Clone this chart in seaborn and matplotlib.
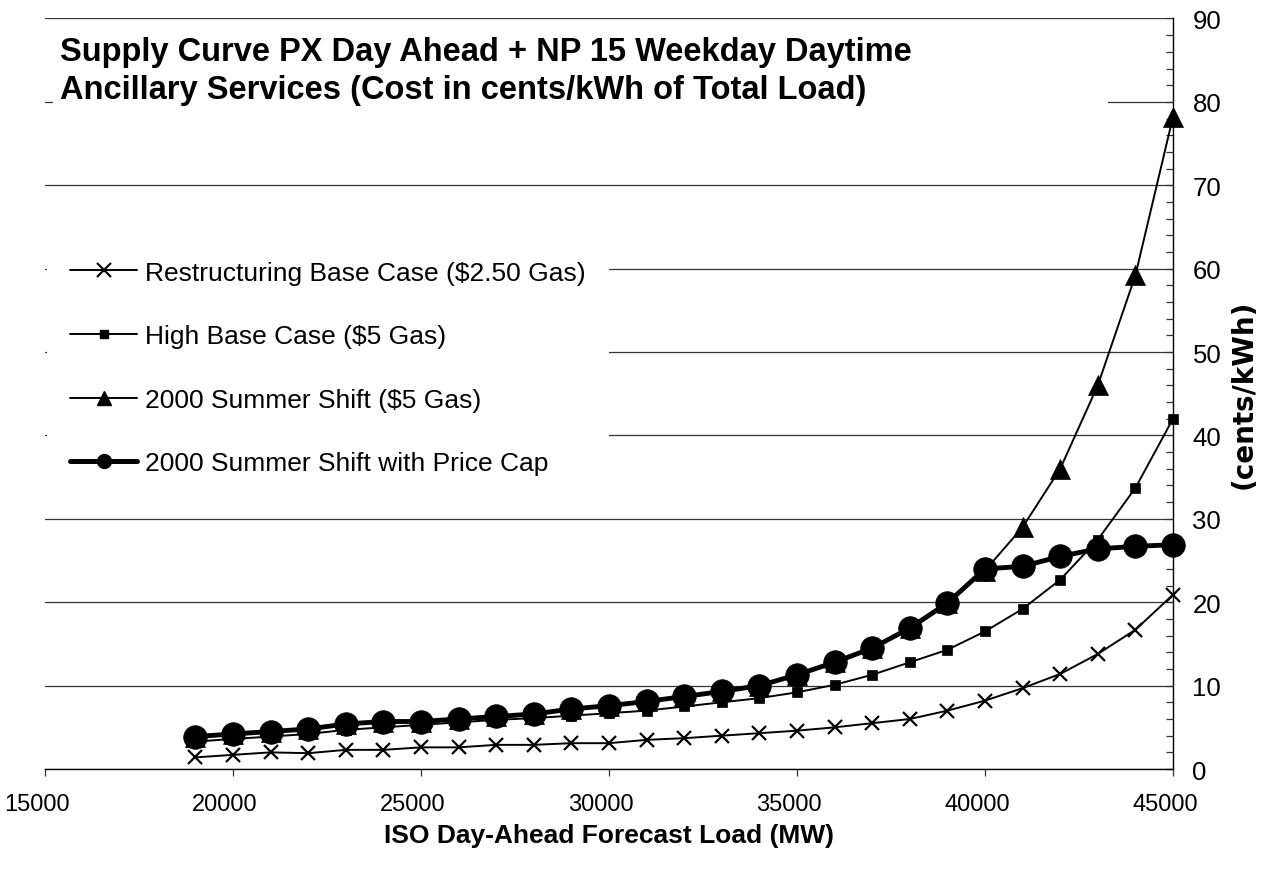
import matplotlib
matplotlib.use("Agg")
import matplotlib.pyplot as plt
import seaborn as sns
from matplotlib.lines import Line2D
from matplotlib.patches import Rectangle
from matplotlib.ticker import MultipleLocator
from matplotlib.transforms import ScaledTranslation

# ---- data -------------------------------------------------------------
load_mw = [19000, 20000, 21000, 22000, 23000, 24000, 25000, 26000, 27000,
           28000, 29000, 30000, 31000, 32000, 33000, 34000, 35000, 36000,
           37000, 38000, 39000, 40000, 41000, 42000, 43000, 44000, 45000]

restructuring = [1.4, 1.7, 2.0, 1.9, 2.3, 2.3, 2.6, 2.6, 2.9, 2.9, 3.1, 3.1,
                 3.5, 3.7, 4.0, 4.3, 4.6, 5.0, 5.5, 6.0, 7.0, 8.2, 9.7, 11.4,
                 13.8, 16.7, 20.9]

high_base = [3.3, 3.6, 3.9, 4.2, 4.7, 5.0, 5.3, 5.6, 5.9, 6.1, 6.4, 6.7,
             7.0, 7.5, 8.0, 8.5, 9.2, 10.1, 11.3, 12.8, 14.3, 16.5, 19.2,
             22.7, 27.5, 33.7, 42.0]

summer_shift = [3.9, 4.2, 4.5, 4.8, 5.4, 5.7, 5.7, 6.0, 6.3, 6.6, 7.2, 7.6,
                8.1, 8.7, 9.3, 10.0, 11.3, 12.8, 14.5, 16.9, 19.9, 23.8, 29.0,
                36.0, 46.0, 59.2, 78.2]

summer_cap = [3.9, 4.2, 4.5, 4.8, 5.4, 5.7, 5.7, 6.0, 6.3, 6.6, 7.2, 7.6,
              8.1, 8.7, 9.3, 10.0, 11.3, 12.8, 14.5, 16.9, 19.9, 24.0, 24.3,
              25.5, 26.4, 26.7, 26.9]

series_names = ["Restructuring Base Case ($2.50 Gas)",
                "High Base Case ($5 Gas)",
                "2000 Summer Shift ($5 Gas)",
                "2000 Summer Shift with Price Cap"]

x_ticks = [15000, 20000, 25000, 30000, 35000, 40000, 45000]
y_ticks = [0, 10, 20, 30, 40, 50, 60, 70, 80, 90]

title_lines = ["Supply Curve PX Day Ahead + NP 15 Weekday Daytime",
               "Ancillary Services (Cost in cents/kWh of Total Load)"]
x_label = "ISO Day-Ahead Forecast Load (MW)"
y_label = "(cents/kWh)"

# ---- style ------------------------------------------------------------
sns.set_theme(style="white")
plt.rcParams['font.family'] = ['Liberation Sans', 'DejaVu Sans']
plt.rcParams['text.color'] = 'black'
plt.rcParams['axes.labelcolor'] = 'black'
plt.rcParams['xtick.color'] = 'black'
plt.rcParams['ytick.color'] = 'black'

fig = plt.figure(figsize=(12.67, 8.70), dpi=100)
ax = fig.add_axes([0.0355, 0.1149, 0.8903, 0.8627])

plot_styles = [
    dict(marker='x', markersize=10, markeredgewidth=1.6, linewidth=1.4),
    dict(marker='s', markersize=6.5, markeredgewidth=0.5, linewidth=1.4),
    dict(marker='^', markersize=15, markeredgewidth=0.5, linewidth=1.4),
    dict(marker='o', markersize=17, markeredgewidth=0.5, linewidth=3.5),
]
all_series = [restructuring, high_base, summer_shift, summer_cap]

for vals, st in zip(all_series, plot_styles):
    sns.lineplot(x=load_mw, y=vals, ax=ax, color='black',
                 markeredgecolor='black', markerfacecolor='black',
                 clip_on=False, legend=False, zorder=3, **st)

ax.set_xlim(15000, 45000)
ax.set_ylim(0, 90)
ax.set_xticks(x_ticks)
ax.set_yticks(y_ticks)
ax.set_yticklabels([str(v) for v in y_ticks], fontsize=18.5)
ax.yaxis.set_minor_locator(MultipleLocator(2))
ax.yaxis.tick_right()
ax.yaxis.set_label_position('right')

for s in ['top', 'left']:
    ax.spines[s].set_visible(False)
for s in ['right', 'bottom']:
    ax.spines[s].set_visible(True)
    ax.spines[s].set_color('black')
    ax.spines[s].set_linewidth(1.0)

ax.tick_params(axis='y', which='both', direction='in', length=5, width=0.9,
               color='#333333', pad=14, labelcolor='black',
               right=True, left=False)
ax.tick_params(axis='x', which='major', direction='out', length=5, width=0.9,
               color='#333333', labelbottom=False, bottom=True)

# category labels: Excel draws them slightly left of their tick marks
lab_offset = ScaledTranslation(-8 / 100, -24 / 100, fig.dpi_scale_trans)
for v in x_ticks:
    ax.text(v, 0, str(v), transform=ax.get_xaxis_transform() + lab_offset,
            ha='center', va='top', fontsize=17, clip_on=False)

ax.set_axisbelow(True)
ax.grid(axis='y', which='major', color='#333333', linewidth=0.9)
ax.grid(axis='x', visible=False)

ax.set_xlabel(x_label, fontsize=19, fontweight='bold', labelpad=34)
ax.set_ylabel(y_label, fontsize=20, fontweight='bold', labelpad=6,
              family=['DejaVu Sans'])

# title block with white background (hides the grid behind it)
ax.add_patch(Rectangle((0.007, 0.866), 0.935, 0.122, transform=ax.transAxes,
                       facecolor='white', edgecolor='none', zorder=1))
ax.text(0.0133, 0.9554, title_lines[0], transform=ax.transAxes,
        fontsize=23.5, fontweight='bold', va='center', ha='left', zorder=2)
ax.text(0.0133, 0.9048, title_lines[1], transform=ax.transAxes,
        fontsize=23.5, fontweight='bold', va='center', ha='left', zorder=2)

# legend
legend_styles = [
    dict(marker='x', markersize=9.5, markeredgewidth=1.5, linewidth=1.4),
    dict(marker='s', markersize=6, linewidth=1.4),
    dict(marker='^', markersize=10, linewidth=1.4),
    dict(marker='o', markersize=10, linewidth=3.6),
]
handles = [Line2D([], [], color='black', markerfacecolor='black',
                  markeredgecolor='black', **st) for st in legend_styles]
leg = ax.legend(handles, series_names, loc='upper left',
                bbox_to_anchor=(0.002, 0.708), borderaxespad=0,
                fontsize=19, frameon=True, facecolor='white',
                edgecolor='none', framealpha=1, fancybox=False,
                handlelength=2.54, handletextpad=0.3, labelspacing=1.5,
                borderpad=0.87)
leg.set_zorder(2)

fig.savefig("out.png", dpi=100)
